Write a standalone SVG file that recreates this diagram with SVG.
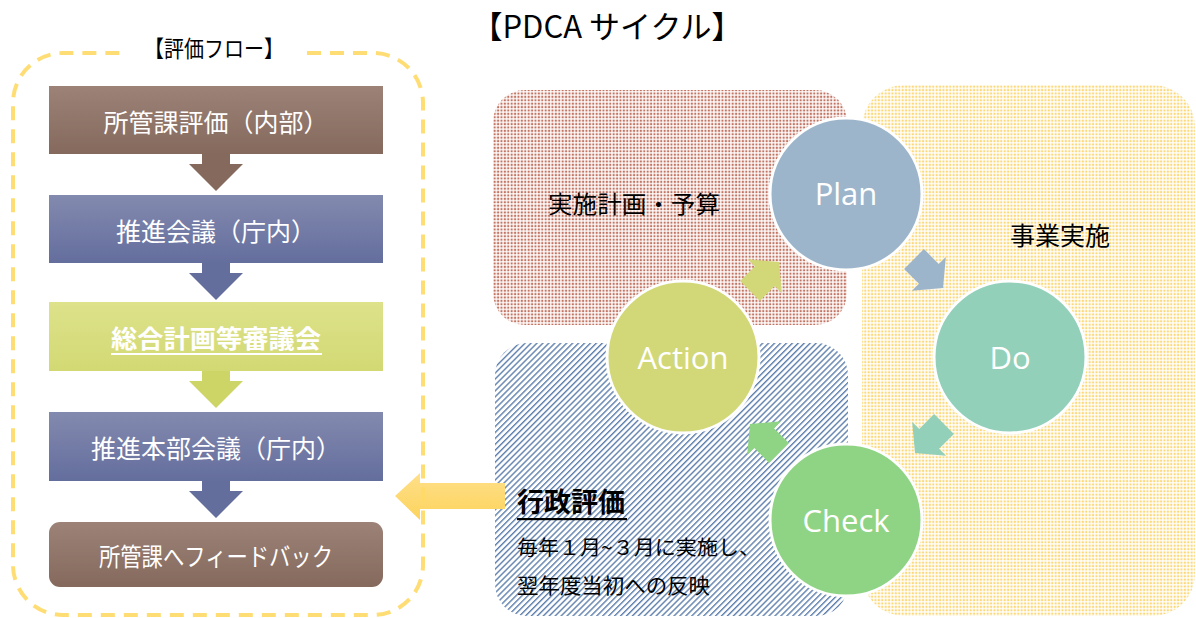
<svg xmlns="http://www.w3.org/2000/svg" width="1196" height="618" viewBox="0 0 1196 618">
<style>
.jp{font-family:"Noto Sans CJK JP","Noto Sans",sans-serif;}
.boxt{font-family:"Noto Sans CJK JP",sans-serif;font-size:25px;fill:#fff;text-anchor:middle;}
.ct{font-family:"Open Sans","Noto Sans",sans-serif;font-size:31px;fill:#fff;text-anchor:middle;}
.circ{stroke:#fff;stroke-width:3;}
</style>
<defs>
<linearGradient id="gBrown" x1="0" y1="0" x2="0" y2="1"><stop offset="0" stop-color="#9C8277"/><stop offset="1" stop-color="#85695D"/></linearGradient>
<linearGradient id="gBlue" x1="0" y1="0" x2="0" y2="1"><stop offset="0" stop-color="#838AAF"/><stop offset="1" stop-color="#646E9D"/></linearGradient>
<linearGradient id="gGreen" x1="0" y1="0" x2="0" y2="1"><stop offset="0" stop-color="#DDE28B"/><stop offset="1" stop-color="#D2D973"/></linearGradient>
<linearGradient id="gYel" x1="0" y1="0" x2="0" y2="1"><stop offset="0" stop-color="#FFE08A"/><stop offset="1" stop-color="#FCD35C"/></linearGradient>
<pattern id="pRed" width="3.4" height="3.4" patternUnits="userSpaceOnUse"><rect width="3.4" height="3.4" fill="#fff"/><rect x="0.6" y="0.6" width="2.1" height="2.1" fill="#C27462"/></pattern>
<pattern id="pYel" width="3.4" height="3.4" patternUnits="userSpaceOnUse"><rect width="3.4" height="3.4" fill="#fff"/><rect x="0.6" y="0.6" width="2.1" height="2.1" fill="#FDD878"/></pattern>
<pattern id="pBlue" width="4.2" height="10" patternUnits="userSpaceOnUse" patternTransform="rotate(45)"><rect width="4.2" height="10" fill="#fff"/><rect x="0" y="0" width="1.4" height="10" fill="#5F80AD"/></pattern>
<polygon id="sArrow" points="-41,-14 -20,-14 -20,-24 0,0 -20,24 -20,14 -41,14"/>
</defs>

<rect width="1196" height="618" fill="#fff"/>

<text class="jp" x="607" y="38" font-size="31" text-anchor="middle" fill="#000">【PDCA サイクル】</text>

<g id="region-plan"><rect x="493" y="90" width="354" height="235" rx="32" fill="url(#pRed)"/>
<text class="jp" x="634" y="213" font-size="24" text-anchor="middle" fill="#000" textLength="172" lengthAdjust="spacingAndGlyphs">実施計画・予算</text></g>
<g id="region-do"><rect x="862" y="85" width="333" height="531" rx="42" fill="url(#pYel)"/>
<text class="jp" x="1060" y="245" font-size="25" text-anchor="middle" fill="#000">事業実施</text></g>
<g id="region-check"><rect x="495" y="343" width="353" height="273" rx="32" fill="url(#pBlue)"/>
<text class="jp" x="517" y="512" font-size="27" font-weight="bold" fill="#000">行政評価</text>
<rect x="517" y="518" width="110" height="2.2" fill="#000"/>
<text class="jp" x="517" y="555" font-size="20" fill="#000" textLength="243" lengthAdjust="spacingAndGlyphs">毎年１月~３月に実施し、</text>
<text class="jp" x="517" y="593" font-size="21" fill="#000" textLength="193" lengthAdjust="spacingAndGlyphs">翌年度当初への反映</text></g>

<g id="node-plan"><circle class="circ" cx="846" cy="194" r="76" fill="#9DB5CB"/><text class="ct" x="846" y="205">Plan</text></g>
<g id="node-do"><circle class="circ" cx="1010" cy="357" r="76" fill="#93D0BA"/><text class="ct" x="1010" y="369">Do</text></g>
<g id="node-check"><circle class="circ" cx="846" cy="520" r="76" fill="#8FD484"/><text class="ct" x="846" y="532">Check</text></g>
<g id="node-action"><circle class="circ" cx="683" cy="357" r="76" fill="#D2D877"/><text class="ct" x="683" y="369">Action</text></g>

<g id="flow-arrow"><polygon points="505,483 420,483 420,473 395,496 420,520 420,509 505,509" fill="url(#gYel)"/></g>

<g id="node-f1"><rect x="49" y="86" width="334" height="68" fill="url(#gBrown)"/><text class="boxt" x="216" y="132">所管課評価（内部）</text></g>
<g id="node-f2"><rect x="49" y="195" width="334" height="68" fill="url(#gBlue)"/><text class="boxt" x="216" y="241">推進会議（庁内）</text></g>
<g id="node-f3"><rect x="49" y="302" width="334" height="69" fill="url(#gGreen)"/><text class="boxt" x="216" y="348" font-weight="bold" font-size="25" textLength="210" lengthAdjust="spacingAndGlyphs">総合計画等審議会</text><rect x="111" y="353" width="211" height="2" fill="#fff"/></g>
<g id="node-f4"><rect x="49" y="412" width="334" height="69" fill="url(#gBlue)"/><text class="boxt" x="216" y="458">推進本部会議（庁内）</text></g>
<g id="node-f5"><rect x="49" y="522" width="334" height="65" rx="11" fill="url(#gBrown)"/><text class="boxt" x="216" y="566" textLength="234" lengthAdjust="spacingAndGlyphs">所管課へフィードバック</text></g>

<g id="connectors">
<polygon points="202,154 230,154 230,164 243,164 216,191 189,164 202,164" fill="#86695D"/>
<polygon points="202,263 230,263 230,273 243,273 216,300 189,273 202,273" fill="#646E9D"/>
<polygon points="202,371 230,371 230,381 243,381 216,408 189,381 202,381" fill="#CDD566"/>
<polygon points="202,481 230,481 230,491 243,491 216,518 189,491 202,491" fill="#646E9D"/>
<use href="#sArrow" transform="translate(779,262) rotate(-45)" fill="#D2D877"/>
<use href="#sArrow" transform="translate(943,288) rotate(45)" fill="#9DB5CB"/>
<use href="#sArrow" transform="translate(915,453) rotate(135)" fill="#93D0BA"/>
<use href="#sArrow" transform="translate(750,424) rotate(-135)" fill="#8FD484"/>
</g>

<g id="frame">
<path d="M307,53 H373 A50,50 0 0 1 423,103 V565 A50,50 0 0 1 373,615 H63 A50,50 0 0 1 13,565 V103 A50,50 0 0 1 63,53 H125" fill="none" stroke="#FFD966" stroke-width="4" stroke-dasharray="14 9" opacity="0.9"/>
<text class="jp" x="214" y="57" font-size="23" text-anchor="middle" fill="#000" textLength="140" lengthAdjust="spacingAndGlyphs">【評価フロー】</text>
</g>
</svg>
